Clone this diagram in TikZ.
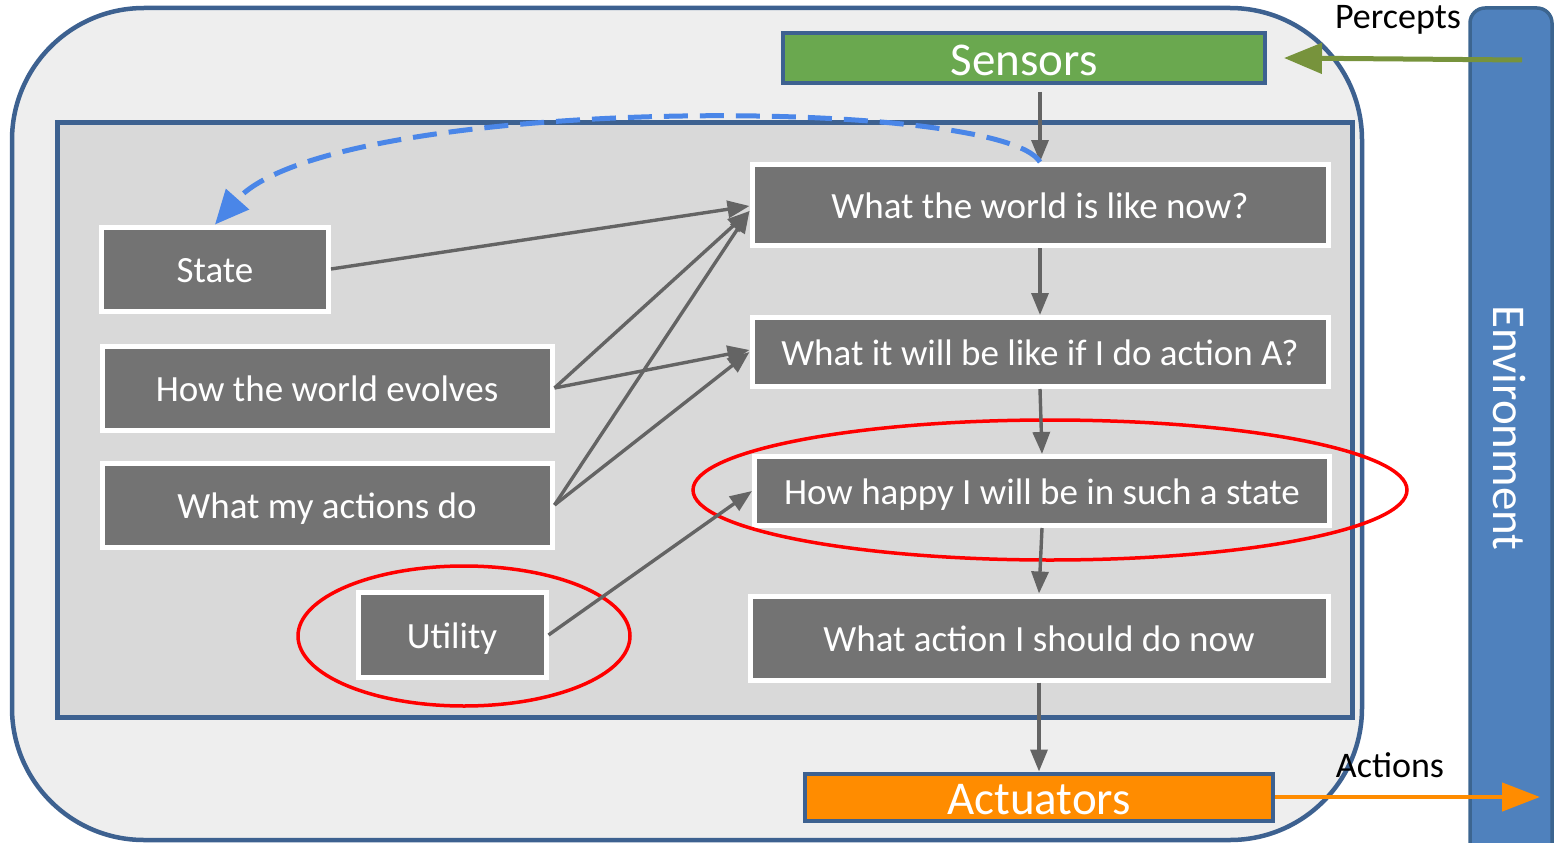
\documentclass[tikz,border=0pt]{standalone}
\usepackage{fontspec}
\setmainfont{Carlito}
\usetikzlibrary{arrows.meta}

\definecolor{panel}{HTML}{EEEEEE}
\definecolor{frame}{HTML}{3D6190}
\definecolor{innerfill}{HTML}{D9D9D9}
\definecolor{boxgray}{HTML}{737373}
\definecolor{arrgray}{HTML}{646464}
\definecolor{sensgreen}{HTML}{6AA84F}
\definecolor{actorange}{HTML}{FF8C00}
\definecolor{envblue}{HTML}{4F81BD}
\definecolor{envframe}{HTML}{3C6590}
\definecolor{perceptgreen}{HTML}{77933C}
\definecolor{memblue}{HTML}{4A86E8}

\tikzset{
  stepbox/.style={draw=white, line width=5pt, fill=boxgray, text=white,
    inner sep=0pt, text height=27pt, text depth=0pt,
    font=\fontsize{37}{44}\selectfont},
  iobox/.style={draw=frame, line width=4pt, text=white, inner sep=0pt,
    text height=34pt, text depth=0pt, font=\fontsize{47}{50}\selectfont},
  flow/.style={draw=arrgray, line width=3.4pt,
    -{Triangle[length=22pt,width=17pt]}},
  outlabel/.style={text=black, inner sep=0pt, font=\fontsize{36}{40}\selectfont},
  focus/.style={draw=red, line width=3.5pt},
}

\begin{document}
\begin{tikzpicture}[x=1pt,y=-1pt]
\useasboundingbox (0,0) rectangle (1556,843);

% agent body and its inner reasoning area
\draw[frame, fill=panel, line width=4.5pt, rounded corners=132pt]
  (12,8) rectangle (1362,840);
\draw[frame, fill=innerfill, line width=5pt] (57,122) rectangle (1352,717);

% environment bar
\node[draw=envframe, fill=envblue, line width=3.5pt, rounded corners=15pt,
  minimum width=82pt, minimum height=860pt, inner sep=0pt] (env) at (1511,438) {};
\node[rotate=-90, text=white, font=\fontsize{47}{50}\selectfont, inner sep=0pt]
  (envtext) at (1509,428) {Environment};

% sensors and actuators
\node[iobox, fill=sensgreen, minimum width=482pt, minimum height=50pt]
  (sensors) at (1024,58) {Sensors};
\node[iobox, fill=actorange, minimum width=468pt, minimum height=47pt]
  (actuators) at (1039,797) {Actuators};

% reasoning steps
\node[stepbox, minimum width=576pt, minimum height=81pt] (world) at (1040,205) {What the world is like now?};
\node[stepbox, minimum width=576pt, minimum height=69pt] (ifaction) at (1040,352) {What it will be like if I do action A?};
\node[stepbox, minimum width=575pt, minimum height=69pt] (happy) at (1042,491) {How happy I will be in such a state};
\node[stepbox, minimum width=578pt, minimum height=84pt] (decide) at (1039,638) {What action I should do now};

\node[stepbox, minimum width=227pt, minimum height=84pt] (state) at (215,269) {State};
\node[stepbox, minimum width=450pt, minimum height=84pt] (evolves) at (327,388) {How the world evolves};
\node[stepbox, minimum width=450pt, minimum height=84pt] (effects) at (327,505) {What my actions do};
\node[stepbox, minimum width=188pt, minimum height=85pt] (utility) at (452,635) {Utility};

% highlighted parts
\draw[focus] (1050,490) ellipse [x radius=357pt, y radius=70pt];
\draw[focus] (464,636) ellipse [x radius=166pt, y radius=70pt];

% main chain
\draw[flow, shorten <=7pt] (sensors.south -| world.north) -- (world.north);
\draw[flow] (world.south) -- (ifaction.north);
\draw[flow] (ifaction.south) -- (happy.north);
\draw[flow] (happy.south) -- (decide.north);
\draw[flow] (decide.south) -- (actuators.north);

% knowledge feeding the chain
\draw[flow] (state.east) -- ([yshift=-1pt]world.west);
\draw[flow] (evolves.east) -- ([yshift=-6pt]world.west);
\draw[flow] (evolves.east) -- ([yshift=2pt]ifaction.west);
\draw[flow] (effects.east) -- ([yshift=-6pt]world.west);
\draw[flow] (effects.east) -- (ifaction.west);
\draw[flow] (utility.east) -- (happy.west);

% internal state update
\draw[memblue, line width=5pt, dash pattern=on 24pt off 12pt,
  -{Triangle[length=34pt,width=30pt]}]
  (world.north) .. controls (1000,95) and (330,95) .. (state.north);

% percepts and actions
\coordinate (percin) at (1522,60);
\coordinate (actout) at (1540,797);
\draw[perceptgreen, line width=5pt, -{Triangle[length=38pt,width=30pt]}]
  (percin) -- ([xshift=17pt]sensors.east);
\draw[actorange, line width=4.5pt, -{Triangle[length=38pt,width=28pt]}]
  (actuators.east) -- (actout);
\node[outlabel] (percepts) at (1398,20) {Percepts};
\node[outlabel] (actions) at (1390,765) {Actions};
\end{tikzpicture}
\end{document}
